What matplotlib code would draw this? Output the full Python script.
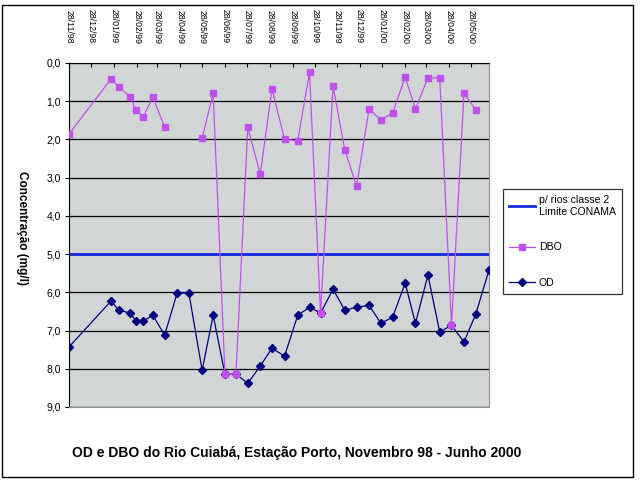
import matplotlib
matplotlib.use("Agg")
import matplotlib.pyplot as plt
import matplotlib.dates as mdates
from matplotlib.lines import Line2D
from matplotlib.patches import Rectangle
import numpy as np
import pandas as pd

plt.rcParams["font.family"] = ["Liberation Sans", "DejaVu Sans"]

# sampling dates (Estação Porto) and measured concentrations, mg/l
DATES = [
    "1998-11-28", "1999-01-24", "1999-02-04", "1999-02-19", "1999-02-27",
    "1999-03-09", "1999-03-22", "1999-04-07", "1999-04-24", "1999-05-10",
    "1999-05-28", "1999-06-12", "1999-06-28", "1999-07-13", "1999-07-29",
    "1999-08-15", "1999-08-31", "1999-09-17", "1999-10-05", "1999-10-21",
    "1999-11-05", "1999-11-22", "1999-12-08", "1999-12-24", "2000-01-10",
    "2000-01-26", "2000-02-11", "2000-02-28", "2000-03-13", "2000-03-30",
    "2000-04-15", "2000-05-01", "2000-05-18", "2000-06-03", "2000-06-21",
]
OD = [
    7.43, 6.23, 6.47, 6.54, 6.75, 6.75, 6.60, 7.12, 6.02, 6.02,
    8.04, 6.60, 8.14, 8.14, 8.38, 7.93, 7.46, 7.67, 6.60, 6.39,
    6.54, 5.92, 6.47, 6.39, 6.34, 6.81, 6.65, 5.76, 6.81, 5.55,
    7.04, 6.86, 7.30, 6.57, 5.42,
]
DBO = [
    1.86, 0.42, 0.63, 0.89, 1.23, 1.41, 0.89, 1.68, np.nan, np.nan,
    1.96, 0.79, 8.14, 8.14, 1.68, 2.91, 0.68, 1.99, 2.04, 0.24,
    6.54, 0.60, 2.28, 3.22, 1.20, 1.49, 1.31, 0.37, 1.20, 0.39,
    0.39, 6.86, 0.79, 1.23, np.nan,
]
LIMITE_CONAMA = 5.0
X_START, X_END = "1998-11-28", "2000-06-21"
Y_TICKS = list(range(10))

dates = pd.to_datetime(DATES)
ticks = pd.date_range("1998-11-28", periods=19, freq=pd.DateOffset(months=1))

fig = plt.figure(figsize=(6.4, 4.8), dpi=100)
ax = fig.add_axes([69 / 640, 73 / 480, 420 / 640, 344 / 480])
ax.set_facecolor("#d2d5d5")

# chart is shown upside down: 0 at the top, date axis along the top edge
ax.set_ylim(9, 0)
ax.set_yticks(Y_TICKS)
ax.set_yticklabels([f"{v},0" for v in Y_TICKS], fontsize=7.5)
ax.yaxis.grid(True, color="black", lw=0.9)
ax.set_axisbelow(True)

ax.set_xlim(pd.Timestamp(X_START), pd.Timestamp(X_END))
ax.xaxis.tick_top()
ax.set_xticks(ticks)
ax.xaxis.set_major_formatter(mdates.DateFormatter("%d/%m/%y"))
plt.setp(ax.get_xticklabels(), rotation=-90, fontsize=6.3, va="bottom", ha="center")
ax.tick_params(axis="x", direction="in", length=3, pad=14)
ax.tick_params(axis="y", direction="inout", length=6, pad=3)

for side in ("left", "top"):
    ax.spines[side].set_color("black")
for side in ("right", "bottom"):
    ax.spines[side].set_color("#909090")

ax.axhline(LIMITE_CONAMA, color="#1428e0", lw=2, zorder=2)
ax.plot(dates, OD, color="#000080", lw=0.9, marker="D", ms=4, zorder=3)
ax.plot(dates, DBO, color="#c050ec", lw=0.9, marker="s", ms=5,
        mfc="#c050ec", mec="#c050ec", zorder=4)

ax.set_ylabel("Concentração (mg/l)", rotation=-90, fontsize=8.5,
              fontweight="bold", labelpad=16, va="center")
ax.yaxis.set_label_coords(-47 / 420, 0.52)

handles = [
    Line2D([], [], color="#1428e0", lw=2),
    Line2D([], [], color="#c050ec", lw=0.9, marker="s", ms=5),
    Line2D([], [], color="#000080", lw=0.9, marker="D", ms=4),
]
labels = ["p/ rios classe 2\nLimite CONAMA", "DBO", "OD"]
leg = fig.legend(handles, labels, loc="upper left",
                 bbox_to_anchor=(503 / 640, 1 - 189 / 480), borderaxespad=0,
                 fontsize=7.6, frameon=True, fancybox=False,
                 edgecolor="black", labelspacing=2.4, handlelength=2.4,
                 handletextpad=0.4, borderpad=0.6)
leg.get_frame().set_linewidth(0.9)

fig.text(297 / 640, 1 - 453 / 480,
         "OD e DBO do Rio Cuiabá, Estação Porto, Novembro 98 - Junho 2000",
         ha="center", va="center", fontsize=10, fontweight="bold")

fig.patches.append(Rectangle((2 / 640, 3 / 480), 631 / 640, 472 / 480,
                             transform=fig.transFigure, fill=False,
                             edgecolor="black", lw=1))

fig.savefig("out.png", dpi=100)
